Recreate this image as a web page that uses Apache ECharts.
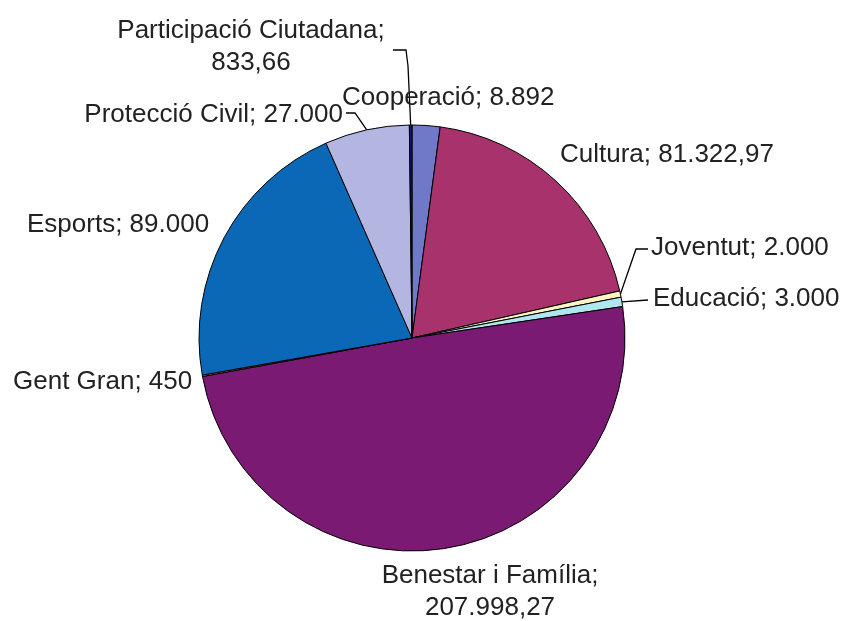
<!DOCTYPE html>
<html><head><meta charset="utf-8">
<script src="https://cdn.jsdelivr.net/npm/echarts@6/dist/echarts.min.js"></script>
<style>html,body{margin:0;padding:0;background:#fff}#c{width:846px;height:621px}</style>
</head><body><div id="c"></div>
<script>
const categories = ['Cooperació','Cultura','Joventut','Educació','Benestar i Família','Gent Gran','Esports','Protecció Civil','Participació Ciutadana'];
const values = [8892, 81322.97, 2000, 3000, 207998.27, 450, 89000, 27000, 833.66];
const colors = ['#7078c8','#a8336c','#faf6c4','#b0e6f0','#7a1a72','#f08080','#0a68b6','#b2b6e0','#14147a'];

function fmt(v){
  let [i,d] = v.toFixed(2).split('.');
  i = i.replace(/\B(?=(\d{3})+(?!\d))/g,'.');
  return d === '00' ? i : i + ',' + d;
}

// label placement (text anchor) and leader bends
const labelPlace = {
  'Cooperació': {x:342, y:98, align:'left'},
  'Cultura': {x:560, y:155, align:'left'},
  'Joventut': {x:651, y:248, align:'left', line:[[636,249],[648,249]]},
  'Educació': {x:653, y:299, align:'left', line:[[648,300]]},
  'Benestar i Família': {x:490, y:592, align:'center'},
  'Gent Gran': {x:13, y:382, align:'left'},
  'Esports': {x:27, y:225, align:'left'},
  'Protecció Civil': {x:343, y:115, align:'right', line:[[355,113],[346,113]]},
  'Participació Ciutadana': {x:251, y:47, align:'center', line:[[408,66],[406,50],[393,50]]}
};
const twoLine = {'Benestar i Família':true,'Participació Ciutadana':true};

const data = categories.map((n,k)=>({
  name:n, value:values[k],
  itemStyle:{color:colors[k]},
  labelLine:{show: !!labelPlace[n].line, lineStyle:{color:'#000', width:1.3}}
}));

const chart = echarts.init(document.getElementById('c'), null, {renderer:'canvas'});
chart.setOption({
  animation:false,
  backgroundColor:'#fff',
  series:[{
    type:'pie',
    center:[412,338],
    radius:213,
    startAngle:90,
    clockwise:true,
    avoidLabelOverlap:false,
    data:data,
    itemStyle:{borderColor:'#000', borderWidth:1},
    emphasis:{disabled:true},
    label:{
      show:true,
      position:'outside',
      fontFamily:'Liberation Sans, Arial, sans-serif',
      fontSize:26,
      lineHeight:32,
      color:'#222',
      formatter:p => twoLine[p.name] ? p.name + ';\n' + fmt(p.value) : p.name + '; ' + fmt(p.value)
    },
    labelLine:{show:true, length:10, length2:10},
    labelLayout:function(params){
      const n = categories[params.dataIndex];
      const pl = labelPlace[n];
      const out = {x:pl.x, y:pl.y, align:pl.align, verticalAlign:'middle'};
      if (pl.line && params.labelLinePoints) {
        out.labelLinePoints = [params.labelLinePoints[0]].concat(pl.line);
      }
      return out;
    }
  }]
});
</script>
</body></html>
